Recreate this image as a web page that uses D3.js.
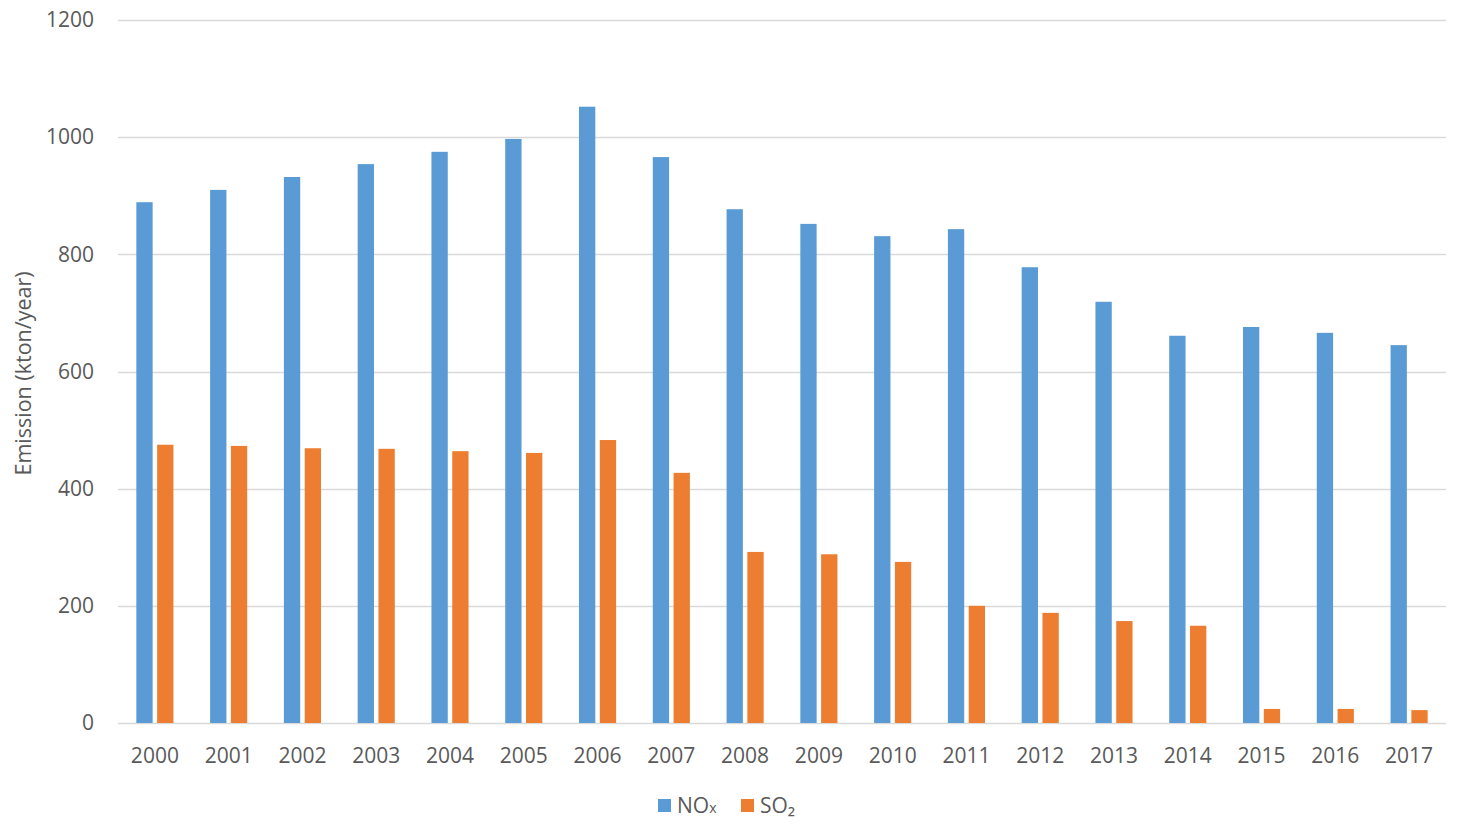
<!DOCTYPE html>
<html>
<head>
<meta charset="utf-8">
<script src="https://cdn.jsdelivr.net/npm/d3@7"></script>
<style>
  html, body { margin: 0; padding: 0; background: #fff; }
  svg { display: block; }
  text { font-family: "Open Sans", "Liberation Sans", sans-serif; fill: #595959; }
</style>
</head>
<body>
<svg id="chart" width="1459" height="826"></svg>
<script>
const years = ["2000","2001","2002","2003","2004","2005","2006","2007","2008","2009","2010","2011","2012","2013","2014","2015","2016","2017"];
const noxValues = [889, 910, 932, 954, 975, 997, 1052, 966, 877, 852, 831, 843, 778, 719, 661, 676, 666, 645];
const so2Values = [475, 473, 469, 468, 464, 461, 483, 427, 292, 288, 275, 200, 188, 174, 166, 24, 24, 22];
const seriesKeys = ["NOx", "SO2"];
const seriesColors = ["#5B9BD5", "#ED7D31"];
const yTicks = [0, 200, 400, 600, 800, 1000, 1200];

(function () {
const svg = d3.select("#chart");
const mLeft = 118, mRight = 1446, mTop = 20, mBottom = 723;

const x0 = d3.scaleBand().domain(years).range([mLeft, mRight]).padding(0);
const x1 = d3.scaleBand().domain(seriesKeys).range([0, x0.bandwidth()])
  .paddingInner(0.216).paddingOuter(0.882);
const y = d3.scaleLinear().domain([0, 1200]).range([mBottom, mTop]);
const color = d3.scaleOrdinal().domain(seriesKeys).range(seriesColors);

// gridlines
svg.append("g").selectAll("line").data(yTicks).join("line")
  .attr("x1", mLeft).attr("x2", mRight)
  .attr("y1", d => Math.round(y(d)) + 0.5).attr("y2", d => Math.round(y(d)) + 0.5)
  .attr("stroke", "#D9D9D9").attr("stroke-width", 1.3);

// y axis labels
const yAxis = d3.axisLeft(y).tickValues(yTicks).tickFormat(d3.format("d")).tickSize(0).tickPadding(0);
const yg = svg.append("g").attr("transform", `translate(94,0)`).call(yAxis);
yg.select(".domain").remove();
yg.selectAll("text").attr("font-size", "21px").attr("fill", "#595959")
  .style("font-family", '"Open Sans", sans-serif');

// bars
const rows = years.map((yr, i) => ({ year: yr, values: [noxValues[i], so2Values[i]] }));
const groups = svg.append("g").selectAll("g").data(rows).join("g")
  .attr("transform", d => `translate(${x0(d.year)},0)`);
groups.selectAll("rect").data(d => seriesKeys.map((k, j) => ({ key: k, value: d.values[j] })))
  .join("rect")
  .attr("x", d => x1(d.key))
  .attr("width", x1.bandwidth())
  .attr("y", d => y(d.value))
  .attr("height", d => y(0) - y(d.value))
  .attr("fill", d => color(d.key));

// x axis labels
const xAxis = d3.axisBottom(x0).tickSize(0).tickPadding(0);
const xg = svg.append("g").attr("transform", `translate(0,${mBottom + 25})`).call(xAxis);
xg.select(".domain").remove();
xg.selectAll("text").attr("font-size", "21px").attr("fill", "#595959")
  .attr("dy", "0.71em").style("font-family", '"Open Sans", sans-serif');

// y axis title
svg.append("text")
  .attr("transform", `translate(31,${(mTop + mBottom) / 2 + 2}) rotate(-90)`)
  .attr("text-anchor", "middle")
  .attr("font-size", "21.5px")
  .text("Emission (kton/year)");

// legend
const legend = [
  { key: "NOx", x: 658, main: "NO", sub: "x" },
  { key: "SO2", x: 741, main: "SO", sub: "₂" }
];
const lg = svg.append("g");
legend.forEach(l => {
  lg.append("rect").attr("x", l.x).attr("y", 799).attr("width", 13).attr("height", 13)
    .attr("fill", color(l.key));
  const t = lg.append("text").attr("x", l.x + 19).attr("y", 813).attr("font-size", "21px");
  t.append("tspan").text(l.main);
  t.append("tspan").attr("font-size", l.sub === "x" ? "14px" : "21px").text(l.sub);
});
})();
</script>
</body>
</html>
